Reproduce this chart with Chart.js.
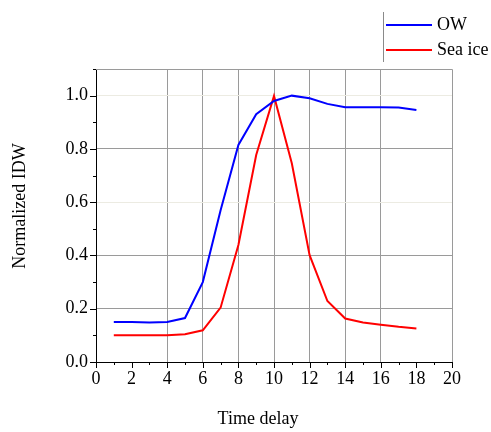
<!DOCTYPE html>
<html>
<head>
<meta charset="utf-8">
<script src="https://cdn.jsdelivr.net/npm/chart.js@4"></script>
<style>
  body { margin: 0; background: #fff; }
  #wrap { width: 491px; height: 432px; }
</style>
</head>
<body>
<div id="wrap"><canvas id="chart" width="491" height="432"></canvas></div>
<script>
// time delay steps and normalized IDW
const delays = [1, 2, 3, 4, 5, 6, 7, 8, 9, 10, 11, 12, 13, 14, 15, 16, 17, 18];
const owValues = [0.15, 0.15, 0.148, 0.15, 0.165, 0.30, 0.57, 0.815, 0.93, 0.98, 1.0, 0.99, 0.969, 0.956, 0.956, 0.956, 0.955, 0.946];
const seaIceValues = [0.10, 0.10, 0.10, 0.10, 0.104, 0.119, 0.204, 0.439, 0.777, 0.999, 0.746, 0.401, 0.229, 0.163, 0.148, 0.14, 0.132, 0.126];
const seriesNames = ['OW', 'Sea ice'];
const seriesColors = ['#0000ff', '#ff0000'];
const xTitle = 'Time delay';
const yTitle = 'Normalized IDW';

const FONT = "Liberation Serif";
Chart.defaults.font.family = FONT;
Chart.defaults.font.size = 18;
Chart.defaults.color = '#000';

function toPoints(vals) {
  return delays.map((d, i) => ({ x: d, y: vals[i] }));
}

// ticks, frame, axis titles and the boxed legend
const decorPlugin = {
  id: 'decor',
  afterDraw(chart) {
    const { ctx, chartArea: a, scales } = chart;
    ctx.save();

    // top + right frame
    ctx.strokeStyle = '#9a9a9a';
    ctx.lineWidth = 1;
    ctx.beginPath();
    ctx.moveTo(a.left, a.top + 0.5);
    ctx.lineTo(a.right + 0.5, a.top + 0.5);
    ctx.lineTo(a.right + 0.5, a.bottom);
    ctx.stroke();

    // outward tick marks, major + minor
    ctx.strokeStyle = '#000';
    ctx.beginPath();
    for (let v = 0; v <= 20; v++) {
      const px = Math.round(scales.x.getPixelForValue(v)) + 0.5;
      const len = v % 2 === 0 ? 6 : 3;
      ctx.moveTo(px, a.bottom);
      ctx.lineTo(px, a.bottom + len);
    }
    for (let k = 0; k <= 11; k++) {
      const py = Math.round(scales.y.getPixelForValue(k / 10)) + 0.5;
      const len = k % 2 === 0 ? 6 : 3;
      ctx.moveTo(a.left, py);
      ctx.lineTo(a.left - len, py);
    }
    ctx.stroke();

    // axis titles
    ctx.fillStyle = '#000';
    ctx.font = '18px "' + FONT + '", serif';
    ctx.textAlign = 'center';
    ctx.textBaseline = 'middle';
    ctx.fillText(xTitle, 258, 419);
    ctx.save();
    ctx.translate(20, 206);
    ctx.rotate(-Math.PI / 2);
    ctx.fillText(yTitle, 0, 0);
    ctx.restore();

    // legend
    ctx.strokeStyle = '#8a8a8a';
    ctx.beginPath();
    ctx.moveTo(383.5, 12);
    ctx.lineTo(383.5, 62);
    ctx.stroke();
    ctx.lineWidth = 2;
    ctx.textAlign = 'left';
    seriesNames.forEach((name, i) => {
      const y = 25 + i * 25;
      ctx.strokeStyle = seriesColors[i];
      ctx.beginPath();
      ctx.moveTo(386, y);
      ctx.lineTo(432, y);
      ctx.stroke();
      ctx.fillText(name, 437, y);
    });

    ctx.restore();
  }
};

new Chart(document.getElementById('chart'), {
  type: 'line',
  data: {
    datasets: [
      { label: seriesNames[0], data: toPoints(owValues), borderColor: seriesColors[0], borderWidth: 2, pointRadius: 0, tension: 0, fill: false },
      { label: seriesNames[1], data: toPoints(seaIceValues), borderColor: seriesColors[1], borderWidth: 2, pointRadius: 0, tension: 0, fill: false },
    ]
  },
  options: {
    responsive: false,
    animation: false,
    layout: { padding: { left: 0, top: 69, right: 39, bottom: 0 } },
    plugins: { legend: { display: false }, tooltip: { enabled: false } },
    scales: {
      x: {
        type: 'linear',
        min: 0, max: 20,
        afterFit: s => { s.height = 70; },
        ticks: {
          stepSize: 1,
          autoSkip: false,
          maxRotation: 0,
          padding: 6,
          color: '#000',
          font: { family: FONT, size: 18 },
          callback: v => (v % 2 === 0 ? String(v) : '')
        },
        grid: {
          drawTicks: false,
          color: c => {
            const v = c.tick && c.tick.value;
            return (v >= 4 && v <= 16 && v % 2 === 0) ? '#9a9a9a' : 'rgba(0,0,0,0)';
          }
        },
        border: { color: '#000', width: 1 }
      },
      y: {
        min: 0, max: 1.1,
        afterFit: s => { s.width = 96; },
        ticks: {
          stepSize: 0.1,
          autoSkip: false,
          padding: 8,
          color: '#000',
          font: { family: FONT, size: 18 },
          callback: v => (Math.round(v * 10) % 2 === 0 ? v.toFixed(1) : '')
        },
        grid: {
          drawTicks: false,
          color: c => {
            const k = Math.round(c.tick.value * 10);
            if (k === 2 || k === 4 || k === 8) return '#9a9a9a';
            if (k === 6 || k === 10) return '#ecebe2';
            return 'rgba(0,0,0,0)';
          }
        },
        border: { color: '#000', width: 1 }
      }
    }
  },
  plugins: [decorPlugin]
});
</script>
</body>
</html>
